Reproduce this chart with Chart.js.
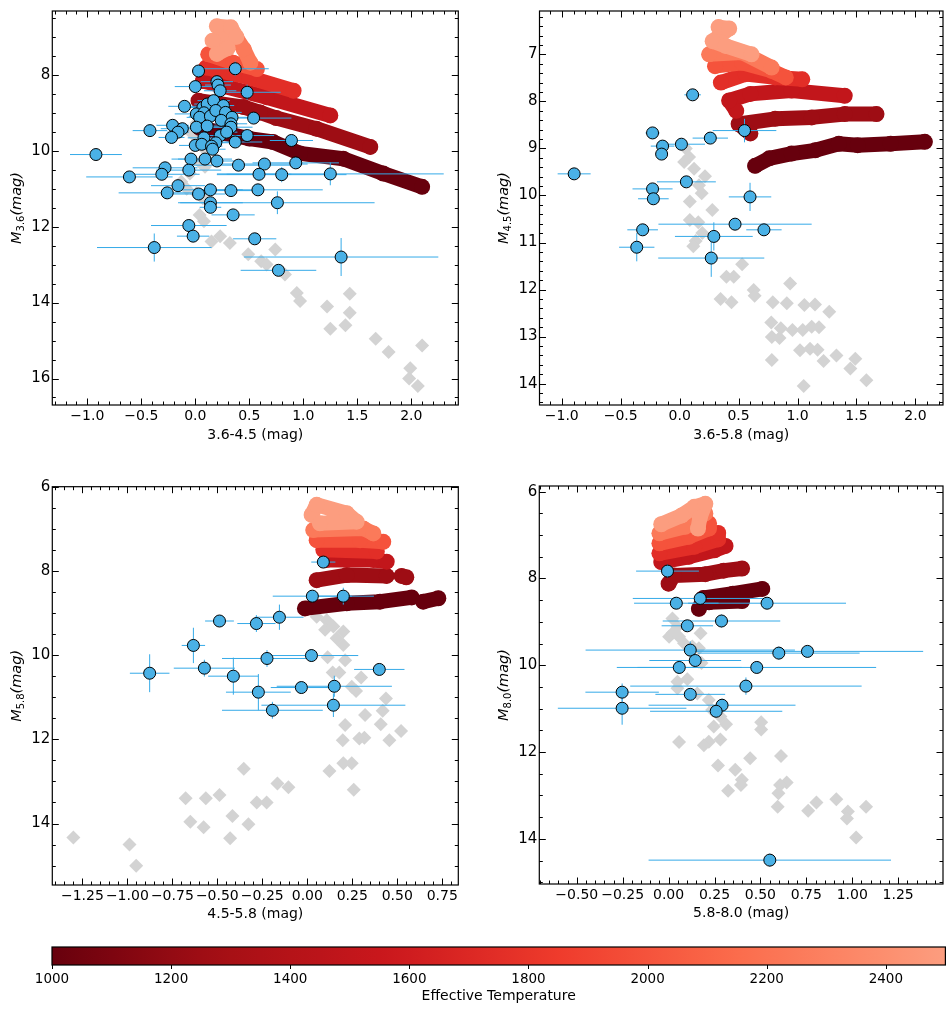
<!DOCTYPE html>
<html lang="en">
<head>
<meta charset="UTF-8">
<title>Colour-magnitude diagrams</title>
<script src="https://cdn.jsdelivr.net/npm/chart.js@4.4.1/dist/chart.umd.min.js"></script>
<style>
  body { margin: 0; background: #fff; }
  #fig { position: relative; width: 951px; height: 1011px; background: #fff; }
  #fig canvas { position: absolute; }
</style>
</head>
<body>
<div id="fig">
  <canvas id="p1" width="475" height="470" style="left:0;top:0"></canvas>
  <canvas id="p2" width="476" height="470" style="left:475px;top:0"></canvas>
  <canvas id="p3" width="475" height="460" style="left:0;top:475px"></canvas>
  <canvas id="p4" width="476" height="460" style="left:475px;top:475px"></canvas>
  <canvas id="cbar" width="951" height="81" style="left:0;top:930px"></canvas>
</div>

<script>
// ---- model track temperatures (one band per temperature) ----
const temps = [1000, 1250, 1500, 1750, 2000, 2250, 2500];
const cbarTicks = [1000, 1200, 1400, 1600, 1800, 2000, 2200, 2400];

// ---- panel 1: M3.6 vs 3.6-4.5 ----
const p1X = [0.03, 0.37, 0.00, 0.20, 0.21, 0.23, 0.48, -0.10, 0.07, 0.11,
             0.17, 0.26, 0.01, 0.08, 0.04, 0.14, 0.19, 0.28, 0.34, 0.24,
             0.33, 0.54, 0.01, 0.11, 0.23, 0.33, 0.29, 0.48, -0.21, -0.12,
             -0.16, -0.22, -0.42, 0.08, 0.19, 0.37, 0.00, 0.06, 0.15, 0.16,
             -0.92, -0.04, 0.09, 0.20, 0.40, 0.64, 0.93, 0.89, -0.28, -0.31,
             -0.61, -0.06, -0.16, -0.26, 0.03, 0.14, 0.33, 0.58, 0.80, 0.59,
             0.76, 0.14, 0.14, 0.35, -0.06, -0.02, -0.38, 0.55, 0.77, 1.25,
             1.35];
const p1Y = [7.90, 7.84, 8.31, 8.18, 8.27, 8.42, 8.46, 8.83, 8.86, 8.77,
             8.68, 8.81, 9.03, 9.00, 9.12, 9.09, 8.94, 8.99, 9.12, 9.20,
             9.29, 9.14, 9.38, 9.35, 9.60, 9.38, 9.51, 9.60, 9.33, 9.42,
             9.51, 9.65, 9.47, 9.66, 9.79, 9.77, 9.86, 9.83, 9.88, 9.96,
             10.10, 10.22, 10.22, 10.27, 10.38, 10.35, 10.32, 9.73, 10.45, 10.62,
             10.69, 10.51, 10.92, 11.11, 11.14, 11.03, 11.05, 11.03, 10.63, 10.62,
             11.37, 11.37, 11.49, 11.69, 11.97, 12.25, 12.55, 12.32, 13.15, 10.61,
             12.80];
const p1XErr = [0.06, 0.31, 0.19, 0.15, 0.12, 0.15, 0.31, 0.15, 0.20, 0.12,
                0.15, 0.10, 0.20, 0.10, 0.12, 0.20, 0.10, 0.15, 0.20, 0.10,
                0.15, 0.35, 0.25, 0.15, 0.20, 0.20, 0.10, 0.25, 0.15, 0.20,
                0.10, 0.12, 0.16, 0.15, 0.20, 0.25, 0.15, 0.12, 0.10, 0.12,
                0.24, 0.18, 0.25, 0.20, 0.50, 0.40, 0.40, 0.20, 0.30, 0.35,
                0.40, 0.30, 0.25, 0.45, 0.25, 0.30, 0.30, 0.60, 0.60, 0.30,
                0.90, 0.30, 0.10, 0.20, 0.35, 0.15, 0.53, 0.20, 0.35, 1.05,
                0.90];
const p1YErr = [0.05, 0.19, 0.05, 0.05, 0.05, 0.05, 0.20, 0.05, 0.05, 0.05,
                0.05, 0.05, 0.05, 0.05, 0.05, 0.05, 0.05, 0.05, 0.05, 0.05,
                0.05, 0.10, 0.05, 0.05, 0.05, 0.05, 0.05, 0.05, 0.05, 0.05,
                0.05, 0.05, 0.05, 0.05, 0.05, 0.05, 0.05, 0.05, 0.05, 0.05,
                0.10, 0.05, 0.05, 0.05, 0.05, 0.10, 0.15, 0.05, 0.05, 0.05,
                0.10, 0.05, 0.05, 0.15, 0.10, 0.10, 0.05, 0.15, 0.20, 0.05,
                0.30, 0.10, 0.10, 0.05, 0.10, 0.05, 0.37, 0.05, 0.15, 0.30,
                0.50];
const p1GreyX = [0.01, -0.03, 0.02, 0.08, 0.05, 0.09, -0.05, -0.13, -0.08, 0.01,
                 0.07, 0.04, 0.08, 0.15, 0.23, 0.32, 0.49, 0.61, 0.66, 0.74,
                 0.83, 0.94, 0.97, 1.22, 1.25, 1.39, 1.43, 1.43, 1.67, 1.79,
                 1.99, 1.98, 2.06, 2.10];
const p1GreyY = [9.27, 9.55, 9.75, 9.94, 10.33, 10.42, 10.60, 10.82, 11.00, 11.12,
                 11.25, 11.69, 11.86, 12.39, 12.25, 12.43, 12.73, 12.91, 13.00, 12.60,
                 13.26, 13.75, 13.96, 14.10, 14.69, 14.60, 13.77, 14.27, 14.95, 15.30,
                 15.73, 16.00, 16.20, 15.13];
const p1TrackX = [
  [0.04, 0.50, 0.72, 0.97, 1.37, 1.74, 2.10],
  [0.03, 0.45, 0.60, 0.75, 1.12, 1.62],
  [0.07, 0.66, 1.25],
  [0.10, 0.50, 0.91],
  [0.12, 0.35, 0.57],
  [0.35, 0.45, 0.51],
  [0.20, 0.33, 0.38, 0.16, 0.30, 0.20]
];
const p1TrackY = [
  [9.40, 9.68, 9.77, 10.07, 10.21, 10.60, 10.95],
  [8.68, 8.85, 8.99, 9.14, 9.42, 9.90],
  [8.16, 8.59, 9.07],
  [7.81, 8.07, 8.42],
  [7.46, 7.68, 7.85],
  [6.89, 7.33, 7.68],
  [6.72, 6.75, 7.00, 7.10, 7.30, 7.45]
];

// ---- panel 2: M4.5 vs 3.6-5.8 ----
const p2X = [0.11, -0.23, 0.015, 0.26, 0.55, -0.145, -0.153, -0.895, 0.057, -0.23,
             -0.223, 0.597, 0.47, 0.715, -0.314, 0.29, -0.364, 0.268];
const p2Y = [7.86, 8.67, 8.91, 8.78, 8.62, 8.95, 9.12, 9.54, 9.71, 9.86,
             10.07, 10.03, 10.61, 10.73, 10.73, 10.87, 11.10, 11.33];
const p2XErr = [0.07, 0.06, 0.20, 0.15, 0.27, 0.10, 0.05, 0.14, 0.25, 0.17,
                0.13, 0.18, 0.65, 0.15, 0.13, 0.33, 0.15, 0.45];
const p2YErr = [0.05, 0.05, 0.05, 0.10, 0.25, 0.05, 0.05, 0.05, 0.05, 0.10,
                0.05, 0.30, 0.10, 0.05, 0.10, 0.30, 0.30, 0.40];
const p2GreyX = [0.052, 0.08, 0.038, 0.122, 0.215, 0.164, 0.187, 0.086, 0.277, 0.086,
                 0.158, 0.192, 0.136, 0.116, 0.53, 0.397, 0.459, 0.937, 0.628, 0.347,
                 0.44, 0.636, 0.79, 0.909, 1.058, 1.148, 1.269, 0.777, 0.858, 0.957,
                 1.044, 1.12, 1.182, 0.782, 0.847, 1.021, 1.106, 1.17, 1.221, 1.33,
                 1.49, 1.448, 0.782, 1.584, 1.052];
const p2GreyY = [9.00, 9.18, 9.29, 9.43, 9.59, 9.78, 9.95, 10.13, 10.31, 10.52,
                 10.57, 10.80, 10.97, 11.08, 11.46, 11.73, 11.73, 11.87, 12.01, 12.20,
                 12.27, 12.13, 12.27, 12.29, 12.33, 12.32, 12.47, 12.70, 12.82, 12.86,
                 12.86, 12.79, 12.80, 13.01, 13.03, 13.29, 13.26, 13.28, 13.52, 13.40,
                 13.47, 13.68, 13.50, 13.93, 14.05];
const p2TrackX = [
  [0.64, 0.76, 0.95, 1.15, 1.35, 1.51, 1.79, 2.08],
  [0.60, 0.50, 0.81, 1.12, 1.40, 1.67],
  [0.48, 0.42, 0.60, 0.95, 1.40],
  [0.35, 0.56, 0.81, 1.04],
  [0.30, 0.53, 0.78, 0.90],
  [0.25, 0.53, 0.78],
  [0.33, 0.42, 0.28, 0.39, 0.61]
];
const p2TrackY = [
  [9.37, 9.21, 9.11, 9.04, 8.90, 8.93, 8.90, 8.86],
  [8.68, 8.48, 8.37, 8.34, 8.27, 8.27],
  [8.20, 7.98, 7.84, 7.77, 7.88],
  [7.60, 7.42, 7.49, 7.53],
  [7.25, 7.18, 7.35, 7.49],
  [7.00, 6.96, 7.28],
  [6.42, 6.45, 6.72, 6.82, 7.00]
];

// ---- panel 3: M5.8 vs 4.5-5.8 ----
const p3X = [0.089, 0.028, 0.20, -0.488, -0.283, -0.155, -0.633, -0.876, -0.572, -0.411,
             -0.224, 0.023, 0.40, -0.272, -0.033, 0.15, -0.194, 0.145];
const p3Y = [7.79, 8.60, 8.60, 9.19, 9.25, 9.10, 9.77, 10.43, 10.31, 10.50,
             10.08, 10.01, 10.34, 10.88, 10.77, 10.74, 11.31, 11.19];
const p3XErr = [0.067, 0.22, 0.17, 0.08, 0.106, 0.134, 0.065, 0.11, 0.17, 0.14,
                0.25, 0.26, 0.14, 0.18, 0.17, 0.32, 0.28, 0.40];
const p3YErr = [0.05, 0.10, 0.20, 0.05, 0.20, 0.30, 0.42, 0.45, 0.20, 0.44,
                0.20, 0.15, 0.12, 0.43, 0.10, 0.25, 0.20, 0.28];
const p3GreyX = [-1.30, -0.988, -0.951, -0.676, -0.65, -0.564, -0.576, -0.488, -0.353, -0.416,
                 -0.429, -0.327, -0.281, -0.226, -0.166, -0.105, 0.052, 0.108, 0.099, 0.145,
                 0.163, 0.20, 0.20, 0.113, 0.21, 0.141, 0.178, 0.299, 0.247, 0.271,
                 0.321, 0.21, 0.197, 0.289, 0.317, 0.408, 0.419, 0.437, 0.456, 0.521,
                 0.123, 0.20, 0.247, 0.258];
const p3GreyY = [14.33, 14.50, 15.00, 13.40, 13.96, 13.40, 14.09, 13.32, 12.70, 13.82,
                 14.35, 14.02, 13.50, 13.50, 13.05, 13.14, 9.09, 9.17, 9.40, 9.32,
                 9.60, 9.44, 9.76, 10.05, 10.12, 10.41, 10.41, 10.53, 10.75, 10.85,
                 11.42, 11.66, 12.02, 11.98, 11.96, 11.64, 11.32, 11.03, 12.02, 11.80,
                 12.75, 12.57, 12.57, 13.20];
const p3TrackX = [
  [-0.013, 0.219, 0.404, 0.58, null, 0.644, 0.728],
  [0.052, 0.219, 0.441, null, 0.524, 0.55],
  [0.108, 0.367, 0.441],
  [0.089, 0.386],
  [0.052, 0.293, 0.422],
  [0.033, 0.311, 0.367],
  [0.024, 0.052, 0.219, 0.274, 0.07]
];
const p3TrackY = [
  [8.89, 8.77, 8.73, 8.63, null, 8.73, 8.65],
  [8.22, 8.10, 8.12, null, 8.12, 8.15],
  [7.74, 7.74, 7.78],
  [7.50, 7.54],
  [7.27, 7.27, 7.31],
  [7.03, 6.99, 7.11],
  [6.67, 6.43, 6.63, 6.83, 6.87]
];

// ---- panel 4: M8.0 vs 5.8-8.0 ----
const p4X = [-0.006, 0.042, 0.172, 0.536, 0.102, 0.288, 0.118, 0.145, 0.60, 0.756,
             0.058, 0.48, 0.421, -0.253, 0.118, -0.253, 0.291, 0.259, 0.551];
const p4Y = [7.83, 8.57, 8.46, 8.57, 9.09, 8.98, 9.65, 9.89, 9.72, 9.68,
             10.05, 10.05, 10.48, 10.62, 10.67, 10.99, 10.92, 11.06, 14.49];
const p4XErr = [0.171, 0.23, 0.367, 0.43, 0.14, 0.32, 0.57, 0.25, 0.44, 0.63,
                0.34, 0.65, 0.63, 0.20, 0.19, 0.35, 0.40, 0.36, 0.66];
const p4YErr = [0.15, 0.10, 0.10, 0.10, 0.05, 0.15, 0.20, 0.10, 0.15, 0.10,
                0.15, 0.10, 0.20, 0.20, 0.05, 0.38, 0.15, 0.10, 0.15];
const p4GreyX = [0.021, 0.048, 0.003, 0.021, 0.057, 0.174, 0.084, 0.129, 0.165, 0.165,
                 0.179, 0.048, 0.102, 0.048, 0.156, 0.219, 0.237, 0.282, 0.246, 0.313,
                 0.282, 0.219, 0.192, 0.057, 0.269, 0.363, 0.324, 0.399, 0.394, 0.444,
                 0.504, 0.504, 0.612, 0.643, 0.607, 0.598, 0.594, 0.76, 0.805, 0.913,
                 0.976, 0.971, 1.075, 1.021];
const p4GreyY = [8.92, 9.11, 9.34, 9.26, 9.34, 9.26, 9.49, 9.57, 9.61, 9.92,
                 9.95, 10.38, 10.32, 10.53, 10.65, 10.80, 11.03, 11.18, 11.41, 11.36,
                 11.71, 11.76, 11.84, 11.77, 12.31, 12.41, 12.89, 12.64, 12.76, 12.14,
                 11.31, 11.48, 12.09, 12.70, 12.76, 12.95, 13.26, 13.35, 13.16, 13.09,
                 13.37, 13.53, 13.26, 13.97];
const p4TrackX = [
  [0.165, 0.19, 0.35, 0.51, null, 0.22, 0.40],
  [0.00, 0.03, 0.20, 0.30, 0.40],
  [-0.04, 0.11, 0.25, 0.31],
  [-0.05, 0.14, 0.27, 0.27],
  [-0.05, 0.11, 0.22, 0.22],
  [-0.05, 0.09, 0.20],
  [-0.04, 0.07, 0.14, 0.20, 0.17, 0.16]
];
const p4TrackY = [
  [8.70, 8.45, 8.35, 8.24, null, 8.55, 8.52],
  [8.12, 7.93, 7.90, 7.82, 7.77],
  [7.62, 7.50, 7.35, 7.25],
  [7.42, 7.27, 7.10, 6.95],
  [7.19, 7.04, 6.85, 6.73],
  [6.96, 6.81, 6.50],
  [6.75, 6.55, 6.35, 6.28, 6.60, 6.85]
];

// ---- styling helpers ----
Chart.defaults.font.family = '"DejaVu Sans", sans-serif';
Chart.defaults.color = '#000';

// matplotlib "Reds", used from its dark end (1000 K) up to ~0.34 (2500 K)
const redsStops = ['#fff5f0', '#fee0d2', '#fcbba1', '#fc9272', '#fb6a4a', '#ef3b2c', '#cb181d', '#a50f15', '#67000d'];
function hexRgb(h) { return [1, 3, 5].map(i => parseInt(h.slice(i, i + 2), 16)); }
function tempColour(t) {
  const v = 1 - 0.66 * (t - 1000) / 1500;
  const f = v * 8, i = Math.min(7, Math.floor(f)), r = f - i;
  const a = hexRgb(redsStops[i]), b = hexRgb(redsStops[i + 1]);
  const c = a.map((ch, k) => Math.round(ch + (b[k] - ch) * r));
  return `rgb(${c[0]},${c[1]},${c[2]})`;
}
function pairs(xs, ys) { return xs.map((x, i) => ({ x: x, y: ys[i] })); }
function fmt(v, d) { return (v < 0 ? '\u2212' : '') + Math.abs(v).toFixed(d); }
function stepsIn(min, max, step) {
  const out = [];
  for (let k = Math.ceil(min / step - 1e-9); k * step <= max + 1e-9; k++) out.push(k * step);
  return out;
}

// frame, inward ticks on all four sides, error bars and the mathtext y label
const framePlugin = {
  id: 'frame',
  beforeDatasetDraw(chart, args) {
    const ds = chart.data.datasets[args.index];
    if (!ds.errX) return;
    const { ctx, chartArea: a } = chart;
    const xs = chart.scales.x, ys = chart.scales.y;
    ctx.save();
    ctx.beginPath(); ctx.rect(a.left, a.top, a.width, a.height); ctx.clip();
    ctx.strokeStyle = '#35aae8';
    ctx.lineWidth = 1;
    ds.data.forEach((p, i) => {
      const px = xs.getPixelForValue(p.x), py = ys.getPixelForValue(p.y);
      ctx.beginPath();
      ctx.moveTo(xs.getPixelForValue(p.x - ds.errX[i]), py);
      ctx.lineTo(xs.getPixelForValue(p.x + ds.errX[i]), py);
      ctx.moveTo(px, ys.getPixelForValue(p.y - ds.errY[i]));
      ctx.lineTo(px, ys.getPixelForValue(p.y + ds.errY[i]));
      ctx.stroke();
    });
    ctx.restore();
  },
  afterDraw(chart, args, o) {
    const { ctx, chartArea: a } = chart;
    const xs = chart.scales.x, ys = chart.scales.y;
    ctx.save();
    ctx.strokeStyle = '#000';
    ctx.lineWidth = 1;
    const xTick = (v, len) => {
      const p = Math.round(xs.getPixelForValue(v)) + 0.5;
      ctx.beginPath();
      ctx.moveTo(p, a.bottom); ctx.lineTo(p, a.bottom - len);
      ctx.moveTo(p, a.top); ctx.lineTo(p, a.top + len);
      ctx.stroke();
    };
    const yTick = (v, len) => {
      const p = Math.round(ys.getPixelForValue(v)) + 0.5;
      ctx.beginPath();
      ctx.moveTo(a.left, p); ctx.lineTo(a.left + len, p);
      ctx.moveTo(a.right, p); ctx.lineTo(a.right - len, p);
      ctx.stroke();
    };
    stepsIn(xs.min, xs.max, o.xMinor).forEach(v => xTick(v, 3.5));
    stepsIn(ys.min, ys.max, o.yMinor).forEach(v => yTick(v, 3.5));
    xs.ticks.forEach(t => xTick(t.value, 6.5));
    ys.ticks.forEach(t => yTick(t.value, 6.5));
    ctx.lineWidth = 1.2;
    ctx.strokeRect(a.left, a.top, a.width, a.height);

    // y label: M_{sub}(mag)
    ctx.translate(o.yLabelX, (a.top + a.bottom) / 2);
    ctx.rotate(-Math.PI / 2);
    ctx.fillStyle = '#000';
    ctx.textBaseline = 'alphabetic';
    const big = 'italic 14.5px "DejaVu Sans"', small = '10px "DejaVu Sans"';
    ctx.font = big; const wM = ctx.measureText('M').width, wMag = ctx.measureText('(mag)').width;
    ctx.font = small; const wS = ctx.measureText(o.sub).width;
    let x = -(wM + wS + wMag) / 2;
    ctx.font = big; ctx.fillText('M', x, 5); x += wM;
    ctx.font = small; ctx.fillText(o.sub, x, 8); x += wS;
    ctx.font = big; ctx.fillText('(mag)', x, 5);
    ctx.restore();
  }
};

function panel(id, p) {
  const datasets = [{
    data: pairs(p.greyX, p.greyY), pointStyle: 'rectRot', pointRadius: 7,
    backgroundColor: '#d3d3d3', borderWidth: 0, order: 30
  }];
  temps.forEach((t, i) => datasets.push({
    data: pairs(p.trackX[i], p.trackY[i]), showLine: true,
    pointRadius: 8, pointBorderWidth: 0, pointBackgroundColor: tempColour(t),
    borderColor: tempColour(t), borderWidth: 15, borderCapStyle: 'round', borderJoinStyle: 'round',
    order: 20 - i
  }));
  datasets.push({
    data: pairs(p.x, p.y), errX: p.xErr, errY: p.yErr, pointRadius: 6,
    backgroundColor: '#4ab1e6', borderColor: '#000', borderWidth: 1, order: 0
  });
  return new Chart(document.getElementById(id), {
    type: 'scatter',
    data: { datasets: datasets },
    options: {
      responsive: false,
      animation: false,
      events: [],
      layout: { padding: { top: p.padTop, right: p.padRight, bottom: 0, left: 0 } },
      plugins: {
        legend: { display: false },
        tooltip: { enabled: false },
        frame: { xMinor: p.xMinor, yMinor: p.yMinor, sub: p.sub, yLabelX: p.yLabelX }
      },
      scales: {
        x: {
          type: 'linear', min: p.xMin, max: p.xMax,
          grid: { display: false, drawTicks: false }, border: { display: false },
          afterBuildTicks: s => { s.ticks = p.xTicks.map(v => ({ value: v })); },
          afterFit: s => { s.height = p.xH; },
          ticks: { autoSkip: false, maxRotation: 0, padding: 3, font: { size: 14 }, callback: v => fmt(v, p.xDec) },
          title: { display: true, text: p.xTitle, font: { size: 14 }, padding: { top: 0, bottom: p.titleB } }
        },
        y: {
          type: 'linear', reverse: true, min: p.yMin, max: p.yMax,
          grid: { display: false, drawTicks: false }, border: { display: false },
          afterBuildTicks: s => { s.ticks = p.yTicks.map(v => ({ value: v })); },
          afterFit: s => { s.width = p.yW; },
          ticks: { autoSkip: false, padding: 2, font: { size: 15 }, callback: v => String(v) }
        }
      }
    },
    plugins: [framePlugin]
  });
}

panel('p1', {
  x: p1X, y: p1Y, xErr: p1XErr, yErr: p1YErr, greyX: p1GreyX, greyY: p1GreyY,
  trackX: p1TrackX, trackY: p1TrackY,
  xMin: -1.324, xMax: 2.435, yMin: 6.319, yMax: 16.698,
  xTicks: [-1, -0.5, 0, 0.5, 1, 1.5, 2], xDec: 1, yTicks: [8, 10, 12, 14, 16],
  xMinor: 0.1, yMinor: 0.5, sub: '3.6', xTitle: '3.6-4.5 (mag)',
  padTop: 8, padRight: 16.7, yW: 52.3, xH: 65, titleB: 26.6, yLabelX: 16
});
panel('p2', {
  x: p2X, y: p2Y, xErr: p2XErr, yErr: p2YErr, greyX: p2GreyX, greyY: p2GreyY,
  trackX: p2TrackX, trackY: p2TrackY,
  xMin: -1.189, xMax: 2.234, yMin: 6.078, yMax: 14.454,
  xTicks: [-1, -0.5, 0, 0.5, 1, 1.5, 2], xDec: 1, yTicks: [7, 8, 9, 10, 11, 12, 13, 14],
  xMinor: 0.1, yMinor: 0.2, sub: '4.5', xTitle: '3.6-5.8 (mag)',
  padTop: 8, padRight: 5.5, yW: 64.5, xH: 65, titleB: 26.6, yLabelX: 28
});
panel('p3', {
  x: p3X, y: p3Y, xErr: p3XErr, yErr: p3YErr, greyX: p3GreyX, greyY: p3GreyY,
  trackX: p3TrackX, trackY: p3TrackY,
  xMin: -1.417, xMax: 0.839, yMin: 6.0, yMax: 15.46,
  xTicks: [-1.25, -1, -0.75, -0.5, -0.25, 0, 0.25, 0.5, 0.75], xDec: 2, yTicks: [6, 8, 10, 12, 14],
  xMinor: 0.05, yMinor: 0.5, sub: '5.8', xTitle: '4.5-5.8 (mag)',
  padTop: 11.7, padRight: 16.7, yW: 52.3, xH: 50, titleB: 12.6, yLabelX: 16
});
panel('p4', {
  x: p4X, y: p4Y, xErr: p4XErr, yErr: p4YErr, greyX: p4GreyX, greyY: p4GreyY,
  trackX: p4TrackX, trackY: p4TrackY,
  xMin: -0.704, xMax: 1.494, yMin: 5.869, yMax: 15.04,
  xTicks: [-0.5, -0.25, 0, 0.25, 0.5, 0.75, 1, 1.25], xDec: 2, yTicks: [6, 8, 10, 12, 14],
  xMinor: 0.05, yMinor: 0.5, sub: '8.0', xTitle: '5.8-8.0 (mag)',
  padTop: 11, padRight: 5.3, yW: 64.3, xH: 51, titleB: 13, yLabelX: 28
});

// ---- colour bar ----
const cbarPlugin = {
  id: 'cbarFill',
  afterDraw(chart) {
    const { ctx, chartArea: a } = chart;
    const xs = chart.scales.x;
    const g = ctx.createLinearGradient(a.left, 0, a.right, 0);
    for (let t = xs.min; t <= xs.max; t += 50) g.addColorStop((t - xs.min) / (xs.max - xs.min), tempColour(t));
    ctx.save();
    ctx.fillStyle = g;
    ctx.fillRect(a.left, a.top, a.width, a.height);
    ctx.strokeStyle = '#000';
    ctx.lineWidth = 1.2;
    ctx.strokeRect(a.left, a.top, a.width, a.height);
    ctx.lineWidth = 1;
    xs.ticks.forEach(t => {
      const p = Math.round(xs.getPixelForValue(t.value)) + 0.5;
      ctx.beginPath(); ctx.moveTo(p, a.bottom); ctx.lineTo(p, a.bottom + 4); ctx.stroke();
    });
    ctx.restore();
  }
};
new Chart(document.getElementById('cbar'), {
  type: 'scatter',
  data: { datasets: [] },
  options: {
    responsive: false,
    animation: false,
    events: [],
    layout: { padding: { left: 52, right: 5.6, top: 17, bottom: 0 } },
    plugins: { legend: { display: false }, tooltip: { enabled: false } },
    scales: {
      x: {
        type: 'linear', min: 1000, max: 2500,
        grid: { display: false, drawTicks: false }, border: { display: false },
        afterBuildTicks: s => { s.ticks = cbarTicks.map(v => ({ value: v })); },
        afterFit: s => { s.height = 46; },
        ticks: { autoSkip: false, maxRotation: 0, padding: 6, font: { size: 13.5 }, callback: v => String(v) },
        title: { display: true, text: 'Effective Temperature', font: { size: 14 }, padding: { top: 0, bottom: 6.6 } }
      },
      y: { display: false, min: 0, max: 1 }
    }
  },
  plugins: [cbarPlugin]
});
</script>
</body>
</html>
